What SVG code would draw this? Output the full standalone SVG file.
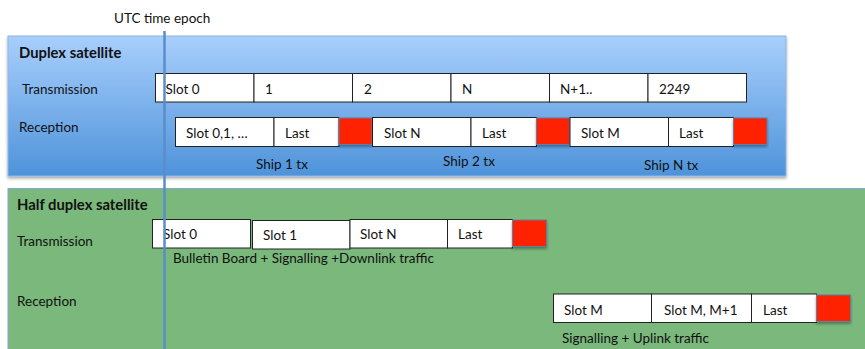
<svg xmlns="http://www.w3.org/2000/svg" width="865" height="349" viewBox="0 0 865 349">
  <style>
    text { font-family: Lato, "Open Sans", "Liberation Sans", sans-serif; font-size: 13.5px; fill: #111; }
    .title { font-weight: bold; font-size: 14.8px; }
    .cell { fill: #ffffff; stroke: #222; stroke-width: 1; }
    .guard { fill: #ff2200; stroke: #5f7fa5; stroke-width: 1; }
    .epoch { stroke: #5a8dca; stroke-width: 2.5; fill: none; }
  </style>
  <defs>
    <linearGradient id="duplexFill" x1="0" y1="0" x2="0" y2="1">
      <stop offset="0" stop-color="#a8cffc"/>
      <stop offset="1" stop-color="#4e93da"/>
    </linearGradient>
    <filter id="drop" x="-5%" y="-5%" width="110%" height="120%">
      <feGaussianBlur in="SourceAlpha" stdDeviation="1.5"/>
      <feOffset dx="0" dy="2" result="b"/>
      <feComponentTransfer><feFuncA type="linear" slope="0.35"/></feComponentTransfer>
      <feMerge><feMergeNode/><feMergeNode in="SourceGraphic"/></feMerge>
    </filter>
  </defs>

  <rect width="865" height="349" fill="#ffffff"/>

  <!-- Duplex satellite panel -->
  <g id="duplex">
    <rect x="8" y="36" width="778" height="140" fill="url(#duplexFill)" stroke="#8db6e4" stroke-width="1" filter="url(#drop)"/>
    <text class="title" x="19" y="58">Duplex satellite</text>
    <text x="22" y="94">Transmission</text>
    <text x="19" y="132">Reception</text>
  </g>

  <!-- Duplex transmission slots -->
  <g id="duplex-tx">
    <rect class="cell" x="155.5" y="73.5" width="98.5" height="28.5"/>
    <rect class="cell" x="254" y="73.5" width="98.5" height="28.5"/>
    <rect class="cell" x="352.5" y="73.5" width="98.5" height="28.5"/>
    <rect class="cell" x="451" y="73.5" width="98.5" height="28.5"/>
    <rect class="cell" x="549.5" y="73.5" width="98.5" height="28.5"/>
    <rect class="cell" x="648" y="73.5" width="98.5" height="28.5"/>
    <text x="165.5" y="93.5">Slot 0</text>
    <text x="265" y="93.5">1</text>
    <text x="364" y="93.5">2</text>
    <text x="462" y="93.5">N</text>
    <text x="560" y="93.5">N+1..</text>
    <text x="659" y="93.5">2249</text>
  </g>

  <!-- Duplex reception: one burst per ship -->
  <g id="duplex-rx-ship1">
    <rect class="cell" x="175.5" y="117.5" width="98.5" height="29"/>
    <rect class="cell" x="274" y="117.5" width="65" height="29"/>
    <rect class="guard" x="339" y="118" width="33" height="26.5" filter="url(#drop)"/>
    <text x="186" y="138">Slot 0,1, …</text>
    <text x="285" y="138">Last</text>
    <text x="256" y="169">Ship 1 tx</text>
  </g>
  <g id="duplex-rx-ship2">
    <rect class="cell" x="372.5" y="117.5" width="98.5" height="29"/>
    <rect class="cell" x="471" y="117.5" width="65.5" height="29"/>
    <rect class="guard" x="536.5" y="118" width="33" height="26.5" filter="url(#drop)"/>
    <text x="384" y="138">Slot N</text>
    <text x="482" y="138">Last</text>
    <text x="443" y="166">Ship 2 tx</text>
  </g>
  <g id="duplex-rx-shipN">
    <rect class="cell" x="570" y="117.5" width="98.5" height="29"/>
    <rect class="cell" x="668.5" y="117.5" width="65" height="29"/>
    <rect class="guard" x="733.5" y="118" width="33.5" height="26.5" filter="url(#drop)"/>
    <text x="581" y="138">Slot M</text>
    <text x="679" y="138">Last</text>
    <text x="644" y="170">Ship N tx</text>
  </g>

  <!-- Half duplex satellite panel -->
  <g id="half-duplex">
    <rect x="8" y="188.5" width="870" height="175" fill="#7ab87b" stroke="#7fa9dc" stroke-width="1"/>
    <text class="title" x="17" y="210">Half duplex satellite</text>
    <text x="17" y="246">Transmission</text>
    <text x="17" y="306">Reception</text>
  </g>

  <!-- Half duplex transmission slots -->
  <g id="half-tx">
    <rect class="cell" x="152.5" y="219.5" width="98" height="28.5"/>
    <rect class="cell" x="252.5" y="220.5" width="97.5" height="28.5"/>
    <rect class="cell" x="350" y="219.5" width="97.5" height="28.5"/>
    <rect class="cell" x="447.5" y="219.5" width="65" height="28.5"/>
    <rect class="guard" x="512.5" y="220" width="34" height="26.5" filter="url(#drop)"/>
    <text x="163" y="239">Slot 0</text>
    <text x="263" y="240">Slot 1</text>
    <text x="360" y="239">Slot N</text>
    <text x="458" y="239">Last</text>
    <text x="173" y="263">Bulletin Board + Signalling +Downlink traffic</text>
  </g>

  <!-- Half duplex reception slots -->
  <g id="half-rx">
    <rect class="cell" x="553.5" y="294" width="98" height="28.5"/>
    <rect class="cell" x="651.5" y="294" width="100" height="28.5"/>
    <rect class="cell" x="751.5" y="294" width="65" height="28.5"/>
    <rect class="guard" x="816.5" y="295" width="34" height="26.5" filter="url(#drop)"/>
    <text x="564" y="315">Slot M</text>
    <text x="664" y="315">Slot M, M+1</text>
    <text x="763" y="315">Last</text>
    <text x="562" y="343">Signalling + Uplink traffic</text>
  </g>

  <!-- UTC time epoch marker -->
  <g id="connectors">
    <line class="epoch" x1="164.5" y1="31" x2="164.5" y2="349"/>
  </g>
  <g id="epoch-label">
    <text x="114" y="23">UTC time epoch</text>
  </g>
</svg>
